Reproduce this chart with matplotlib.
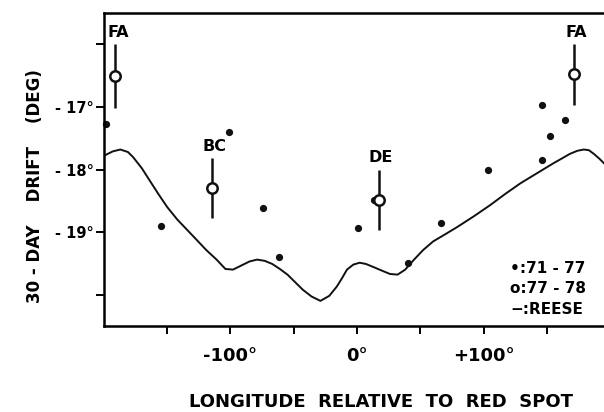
import matplotlib
matplotlib.use('Agg')
from matplotlib import pyplot as plt

plt.rcParams['font.family'] = ['DejaVu Sans']
plt.rcParams['font.weight'] = 'bold'

# 71-77 drift points (filled dots)
dots_x = [-198, -155, -101, -74, -62, 1, 13, 40, 66, 103, 146, 146, 152, 164]
dots_y = [-17.27, -18.90, -17.40, -18.62, -19.40, -18.94, -18.49, -19.49,
          -18.86, -18.0, -16.97, -17.84, -17.46, -17.21]

# 77-78 features (open circles with error bars)
feat_names = ['FA', 'BC', 'DE', 'FA']
feat_x = [-191, -115, 17, 171]
feat_y = [-16.51, -18.30, -18.48, -16.48]
feat_err = [0.51, 0.48, 0.48, 0.49]

# Reese curve
reese_x = [-200, -193, -187, -181, -177, -170, -164, -157, -150, -142, -134, -126,
           -119, -111, -104, -98, -92, -85, -79, -73, -67, -61, -55, -49, -43,
           -36, -29, -22, -16, -12, -8, -3, 2, 7, 13, 20, 26, 32, 38, 45, 52,
           60, 70, 79, 92, 105, 117, 129, 142, 155, 162, 168, 174, 179, 183,
           187, 191, 195]
reese_y = [-17.78, -17.71, -17.68, -17.72, -17.80, -17.98, -18.17, -18.39,
           -18.60, -18.80, -18.97, -19.14, -19.29, -19.44, -19.59, -19.60,
           -19.54, -19.47, -19.44, -19.46, -19.51, -19.59, -19.68, -19.80,
           -19.92, -20.03, -20.10, -20.02, -19.87, -19.74, -19.60, -19.52,
           -19.49, -19.51, -19.56, -19.62, -19.67, -19.68, -19.60, -19.44,
           -19.29, -19.15, -19.03, -18.92, -18.75, -18.57, -18.39, -18.22,
           -18.06, -17.90, -17.82, -17.75, -17.70, -17.68, -17.69, -17.75,
           -17.82, -17.90]

fig = plt.figure(figsize=(6.04, 4.12), dpi=100)
ax = fig.add_axes([0.172, 0.209, 0.828, 0.759])

ax.plot(reese_x, reese_y, color='#111111', lw=1.4)
ax.plot(dots_x, dots_y, 'o', color='#111111', ms=4.2, clip_on=False)
ax.errorbar(feat_x, feat_y, yerr=feat_err, fmt='o', color='#111111',
            mfc='white', mec='#111111', ms=7.5, mew=1.8, elinewidth=1.8,
            capsize=0, zorder=3)
for name, x, y, e in zip(feat_names, feat_x, feat_y, feat_err):
    ax.annotate(name, (x + 2, y + e), xytext=(0, 3), textcoords='offset points',
                ha='center', va='bottom', fontsize=11.5, fontweight='bold')

ax.set_xlim(-200, 195)
ax.set_ylim(-20.5, -15.5)

ax.set_xticks([-150, -100, -50, 0, 50, 100, 150])
ax.set_xticklabels(['', '-100°', '', '0°', '', '+100°', ''])
ax.set_yticks([-20, -19, -18, -17, -16])
ax.set_yticklabels(['', '- 19°', '- 18°', '- 17°', ''])
ax.tick_params(axis='x', length=6, width=1.4, pad=9, labelsize=13)
ax.tick_params(axis='y', length=6, width=1.4, pad=1, labelsize=10.5)

for s in ['left', 'bottom', 'top']:
    ax.spines[s].set_linewidth(1.8)
ax.spines['right'].set_visible(False)

ax.text(0.812, 0.118, '•:71 - 77\no:77 - 78\n−:REESE', transform=ax.transAxes,
        ha='left', va='center', fontsize=11, fontweight='bold', linespacing=1.45)

fig.text(0.058, 0.549, '30 - DAY    DRIFT    (DEG)', rotation=90, ha='center',
         va='center', fontsize=12, fontweight='bold')
fig.text(0.631, 0.024, 'LONGITUDE  RELATIVE  TO  RED  SPOT', ha='center',
         va='center', fontsize=13, fontweight='bold')

fig.savefig('out.png', dpi=100)
